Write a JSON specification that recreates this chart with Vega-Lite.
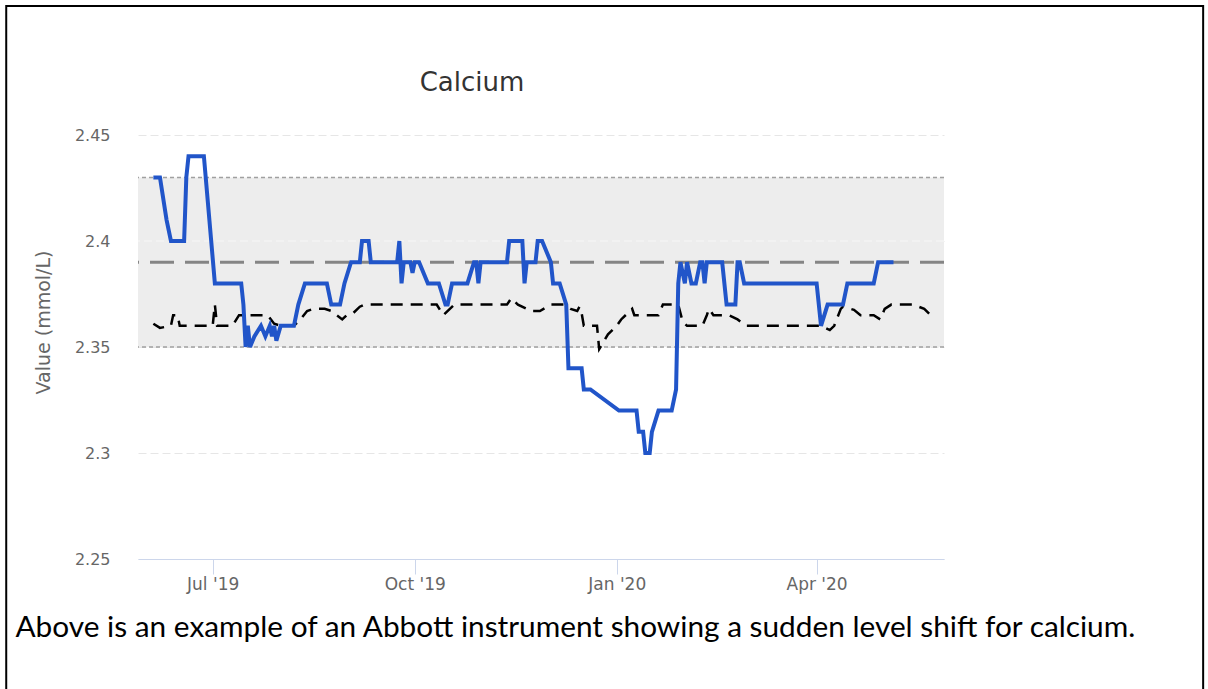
{
  "$schema": "https://vega.github.io/schema/vega-lite/v6.json",
  "width": 806,
  "height": 424,
  "autosize": {"type": "none"},
  "padding": {"left": 138, "top": 135, "right": 264, "bottom": 130},
  "background": "white",
  "title": {"text": "Calcium", "anchor": "middle", "frame": "group", "offset": 0, "dx": -69, "dy": 112, "baseline": "alphabetic", "font": "DejaVu Sans", "fontSize": 26, "fontWeight": "normal", "color": "#333333"},
  "datasets": {
    "limits": [{"low": 2.35, "high": 2.43, "target": 2.39}],
    "measured": [
      {"date": "2019-06-04", "value": 2.43}, {"date": "2019-06-07", "value": 2.43}, {"date": "2019-06-10", "value": 2.41},
      {"date": "2019-06-12", "value": 2.40}, {"date": "2019-06-18", "value": 2.40}, {"date": "2019-06-19", "value": 2.43},
      {"date": "2019-06-20", "value": 2.44}, {"date": "2019-06-21", "value": 2.44}, {"date": "2019-06-27", "value": 2.44},
      {"date": "2019-07-02", "value": 2.38}, {"date": "2019-07-14", "value": 2.38}, {"date": "2019-07-15", "value": 2.37},
      {"date": "2019-07-16", "value": 2.35}, {"date": "2019-07-17", "value": 2.36}, {"date": "2019-07-18", "value": 2.35},
      {"date": "2019-07-20", "value": 2.355}, {"date": "2019-07-23", "value": 2.36}, {"date": "2019-07-25", "value": 2.355},
      {"date": "2019-07-27", "value": 2.36}, {"date": "2019-07-28", "value": 2.355}, {"date": "2019-07-29", "value": 2.36},
      {"date": "2019-07-30", "value": 2.353}, {"date": "2019-08-01", "value": 2.36}, {"date": "2019-08-07", "value": 2.36},
      {"date": "2019-08-09", "value": 2.37}, {"date": "2019-08-12", "value": 2.38}, {"date": "2019-08-22", "value": 2.38},
      {"date": "2019-08-24", "value": 2.37}, {"date": "2019-08-28", "value": 2.37}, {"date": "2019-08-30", "value": 2.38},
      {"date": "2019-09-02", "value": 2.39}, {"date": "2019-09-06", "value": 2.39}, {"date": "2019-09-07", "value": 2.40},
      {"date": "2019-09-10", "value": 2.40}, {"date": "2019-09-11", "value": 2.39}, {"date": "2019-09-23", "value": 2.39},
      {"date": "2019-09-24", "value": 2.40}, {"date": "2019-09-25", "value": 2.38}, {"date": "2019-09-26", "value": 2.39},
      {"date": "2019-09-29", "value": 2.39}, {"date": "2019-09-30", "value": 2.385}, {"date": "2019-10-01", "value": 2.39},
      {"date": "2019-10-03", "value": 2.39}, {"date": "2019-10-07", "value": 2.38}, {"date": "2019-10-12", "value": 2.38},
      {"date": "2019-10-15", "value": 2.37}, {"date": "2019-10-16", "value": 2.37}, {"date": "2019-10-18", "value": 2.38},
      {"date": "2019-10-25", "value": 2.38}, {"date": "2019-10-28", "value": 2.39}, {"date": "2019-10-29", "value": 2.39},
      {"date": "2019-10-30", "value": 2.38}, {"date": "2019-10-31", "value": 2.39}, {"date": "2019-11-12", "value": 2.39},
      {"date": "2019-11-13", "value": 2.40}, {"date": "2019-11-19", "value": 2.40}, {"date": "2019-11-20", "value": 2.38},
      {"date": "2019-11-21", "value": 2.39}, {"date": "2019-11-25", "value": 2.39}, {"date": "2019-11-26", "value": 2.40},
      {"date": "2019-11-28", "value": 2.40}, {"date": "2019-12-02", "value": 2.39}, {"date": "2019-12-03", "value": 2.38},
      {"date": "2019-12-06", "value": 2.38}, {"date": "2019-12-09", "value": 2.37}, {"date": "2019-12-10", "value": 2.34},
      {"date": "2019-12-16", "value": 2.34}, {"date": "2019-12-17", "value": 2.33}, {"date": "2019-12-20", "value": 2.33},
      {"date": "2020-01-02", "value": 2.32}, {"date": "2020-01-10", "value": 2.32}, {"date": "2020-01-11", "value": 2.31},
      {"date": "2020-01-13", "value": 2.31}, {"date": "2020-01-14", "value": 2.30}, {"date": "2020-01-16", "value": 2.30},
      {"date": "2020-01-17", "value": 2.31}, {"date": "2020-01-20", "value": 2.32}, {"date": "2020-01-26", "value": 2.32},
      {"date": "2020-01-28", "value": 2.33}, {"date": "2020-01-29", "value": 2.38}, {"date": "2020-01-30", "value": 2.39},
      {"date": "2020-02-01", "value": 2.38}, {"date": "2020-02-02", "value": 2.39}, {"date": "2020-02-04", "value": 2.38},
      {"date": "2020-02-06", "value": 2.38}, {"date": "2020-02-08", "value": 2.39}, {"date": "2020-02-09", "value": 2.39},
      {"date": "2020-02-10", "value": 2.38}, {"date": "2020-02-11", "value": 2.39}, {"date": "2020-02-18", "value": 2.39},
      {"date": "2020-02-20", "value": 2.37}, {"date": "2020-02-24", "value": 2.37}, {"date": "2020-02-25", "value": 2.39},
      {"date": "2020-02-26", "value": 2.39}, {"date": "2020-02-28", "value": 2.38}, {"date": "2020-04-01", "value": 2.38},
      {"date": "2020-04-03", "value": 2.36}, {"date": "2020-04-06", "value": 2.37}, {"date": "2020-04-13", "value": 2.37},
      {"date": "2020-04-15", "value": 2.38}, {"date": "2020-04-27", "value": 2.38}, {"date": "2020-04-29", "value": 2.39},
      {"date": "2020-05-06", "value": 2.39}
    ],
    "peer": [
      {"date": "2019-06-04", "value": 2.361}, {"date": "2019-06-07", "value": 2.359}, {"date": "2019-06-12", "value": 2.36},
      {"date": "2019-06-13", "value": 2.365}, {"date": "2019-06-15", "value": 2.365}, {"date": "2019-06-16", "value": 2.36},
      {"date": "2019-07-01", "value": 2.36}, {"date": "2019-07-02", "value": 2.37}, {"date": "2019-07-03", "value": 2.36},
      {"date": "2019-07-10", "value": 2.36}, {"date": "2019-07-13", "value": 2.365}, {"date": "2019-07-26", "value": 2.365},
      {"date": "2019-07-29", "value": 2.361}, {"date": "2019-08-01", "value": 2.36}, {"date": "2019-08-07", "value": 2.36},
      {"date": "2019-08-10", "value": 2.363}, {"date": "2019-08-13", "value": 2.367}, {"date": "2019-08-16", "value": 2.368},
      {"date": "2019-08-21", "value": 2.368}, {"date": "2019-08-24", "value": 2.367}, {"date": "2019-08-29", "value": 2.363},
      {"date": "2019-08-31", "value": 2.365}, {"date": "2019-09-03", "value": 2.366}, {"date": "2019-09-06", "value": 2.369},
      {"date": "2019-09-08", "value": 2.37}, {"date": "2019-10-11", "value": 2.37}, {"date": "2019-10-14", "value": 2.365},
      {"date": "2019-10-19", "value": 2.37}, {"date": "2019-11-12", "value": 2.37}, {"date": "2019-11-14", "value": 2.373},
      {"date": "2019-11-17", "value": 2.37}, {"date": "2019-11-21", "value": 2.368}, {"date": "2019-11-23", "value": 2.367},
      {"date": "2019-11-27", "value": 2.367}, {"date": "2019-12-02", "value": 2.37}, {"date": "2019-12-08", "value": 2.37},
      {"date": "2019-12-11", "value": 2.368}, {"date": "2019-12-14", "value": 2.367}, {"date": "2019-12-15", "value": 2.369},
      {"date": "2019-12-16", "value": 2.366}, {"date": "2019-12-17", "value": 2.36}, {"date": "2019-12-23", "value": 2.36},
      {"date": "2019-12-24", "value": 2.349}, {"date": "2019-12-28", "value": 2.356}, {"date": "2020-01-01", "value": 2.36},
      {"date": "2020-01-03", "value": 2.363}, {"date": "2020-01-07", "value": 2.367}, {"date": "2020-01-08", "value": 2.368},
      {"date": "2020-01-09", "value": 2.365}, {"date": "2020-01-20", "value": 2.365}, {"date": "2020-01-22", "value": 2.37},
      {"date": "2020-01-29", "value": 2.37}, {"date": "2020-01-31", "value": 2.362}, {"date": "2020-02-02", "value": 2.36},
      {"date": "2020-02-09", "value": 2.36}, {"date": "2020-02-11", "value": 2.365}, {"date": "2020-02-12", "value": 2.368},
      {"date": "2020-02-14", "value": 2.365}, {"date": "2020-02-21", "value": 2.365}, {"date": "2020-02-25", "value": 2.363},
      {"date": "2020-02-29", "value": 2.36}, {"date": "2020-04-03", "value": 2.36}, {"date": "2020-04-07", "value": 2.358},
      {"date": "2020-04-09", "value": 2.36}, {"date": "2020-04-12", "value": 2.368}, {"date": "2020-04-13", "value": 2.369},
      {"date": "2020-04-18", "value": 2.3675}, {"date": "2020-04-21", "value": 2.365}, {"date": "2020-04-27", "value": 2.365},
      {"date": "2020-04-30", "value": 2.363}, {"date": "2020-05-02", "value": 2.368}, {"date": "2020-05-05", "value": 2.37},
      {"date": "2020-05-15", "value": 2.37}, {"date": "2020-05-20", "value": 2.368}, {"date": "2020-05-24", "value": 2.364}
    ]
  },
  "layer": [
    {
      "data": {"name": "limits"},
      "mark": {"type": "rect", "filled": false, "stroke": "black", "strokeWidth": 2},
      "encoding": {
        "x": {"datum": {"year": 2019, "month": 3, "date": 29, "utc": true}, "type": "temporal",
              "scale": {"type": "utc", "domain": [{"year": 2019, "month": 5, "date": 28, "utc": true}, {"year": 2020, "month": 5, "date": 29, "utc": true}]}},
        "x2": {"datum": {"year": 2020, "month": 9, "date": 24, "utc": true}},
        "y": {"datum": 2.5108, "type": "quantitative", "scale": {"domain": [2.25, 2.45], "zero": false, "nice": false}},
        "y2": {"datum": 2.15}
      }
    },
    {
      "data": {"name": "limits"},
      "mark": {"type": "rect", "color": "#ededed"},
      "encoding": {
        "y": {"field": "low", "type": "quantitative", "scale": {"domain": [2.25, 2.45], "zero": false, "nice": false}},
        "y2": {"field": "high"}
      }
    },
    {
      "data": {"name": "limits"},
      "mark": {"type": "rule", "color": "#f7f7f7", "strokeWidth": 1, "strokeDash": [8, 4]},
      "encoding": {
        "y": {"datum": 2.4, "type": "quantitative", "scale": {"domain": [2.25, 2.45], "zero": false, "nice": false}}
      }
    },
    {
      "data": {"name": "limits"},
      "mark": {"type": "rule", "color": "#a0a0a0", "strokeWidth": 1.5, "strokeDash": [4, 3]},
      "encoding": {
        "y": {"field": "low", "type": "quantitative", "scale": {"domain": [2.25, 2.45], "zero": false, "nice": false}}
      }
    },
    {
      "data": {"name": "limits"},
      "mark": {"type": "rule", "color": "#a0a0a0", "strokeWidth": 1.5, "strokeDash": [4, 3]},
      "encoding": {
        "y": {"field": "high", "type": "quantitative", "scale": {"domain": [2.25, 2.45], "zero": false, "nice": false}}
      }
    },
    {
      "data": {"name": "limits"},
      "mark": {"type": "rule", "color": "#858585", "strokeWidth": 3, "strokeDash": [24, 11]},
      "encoding": {
        "y": {"field": "target", "type": "quantitative", "scale": {"domain": [2.25, 2.45], "zero": false, "nice": false}}
      }
    },
    {
      "data": {"name": "peer"},
      "mark": {"type": "line", "color": "black", "strokeWidth": 2.5, "strokeDash": [12, 8]},
      "encoding": {
        "x": {"field": "date", "type": "temporal",
              "scale": {"type": "utc", "domain": [{"year": 2019, "month": 5, "date": 28, "utc": true}, {"year": 2020, "month": 5, "date": 29, "utc": true}]}},
        "y": {"field": "value", "type": "quantitative", "scale": {"domain": [2.25, 2.45], "zero": false, "nice": false}}
      }
    },
    {
      "data": {"name": "measured"},
      "mark": {"type": "line", "color": "#2155c9", "strokeWidth": 4, "strokeJoin": "miter"},
      "encoding": {
        "x": {"field": "date", "type": "temporal",
              "scale": {"type": "utc", "domain": [{"year": 2019, "month": 5, "date": 28, "utc": true}, {"year": 2020, "month": 5, "date": 29, "utc": true}]},
              "axis": {
                "values": [{"year": 2019, "month": 7, "date": 1, "utc": true}, {"year": 2019, "month": 10, "date": 1, "utc": true}, {"year": 2020, "month": 1, "date": 1, "utc": true}, {"year": 2020, "month": 4, "date": 1, "utc": true}],
                "labelExpr": "utcFormat(datum.value, \"%b '%y\")",
                "grid": false, "domainColor": "#ccd6eb", "domainWidth": 1, "tickColor": "#ccd6eb", "tickSize": 15, "tickWidth": 1,
                "labelPadding": 2, "labelFont": "DejaVu Sans", "labelFontSize": 17, "labelColor": "#666666", "labelFlush": false, "labelOverlap": false,
                "title": "Above is an example of an Abbott instrument showing a sudden level shift for calcium.",
                "titleX": -123, "titleY": 77, "titleAlign": "left", "titleBaseline": "alphabetic", "titleFont": "Lato", "titleFontSize": 29.8,
                "titleFontWeight": "normal", "titleColor": "#000000", "titleLimit": 2000
              }},
        "y": {"field": "value", "type": "quantitative",
              "scale": {"domain": [2.25, 2.45], "zero": false, "nice": false},
              "axis": {
                "values": [2.25, 2.3, 2.35, 2.4, 2.45], "format": ".2~f",
                "domain": false, "ticks": false, "tickSize": 0, "grid": true, "gridColor": "#e6e6e6", "gridDash": [8, 4], "gridWidth": 1,
                "labelPadding": 28, "labelFont": "DejaVu Sans", "labelFontSize": 16, "labelColor": "#666666",
                "title": "Value (mmol/L)", "titleX": -95, "titleY": 187, "titleAngle": -90, "titleAlign": "center", "titleBaseline": "middle",
                "titleFont": "DejaVu Sans", "titleFontSize": 19, "titleFontWeight": "normal", "titleColor": "#666666"
              }}
      }
    }
  ],
  "config": {"view": {"stroke": null}}
}
